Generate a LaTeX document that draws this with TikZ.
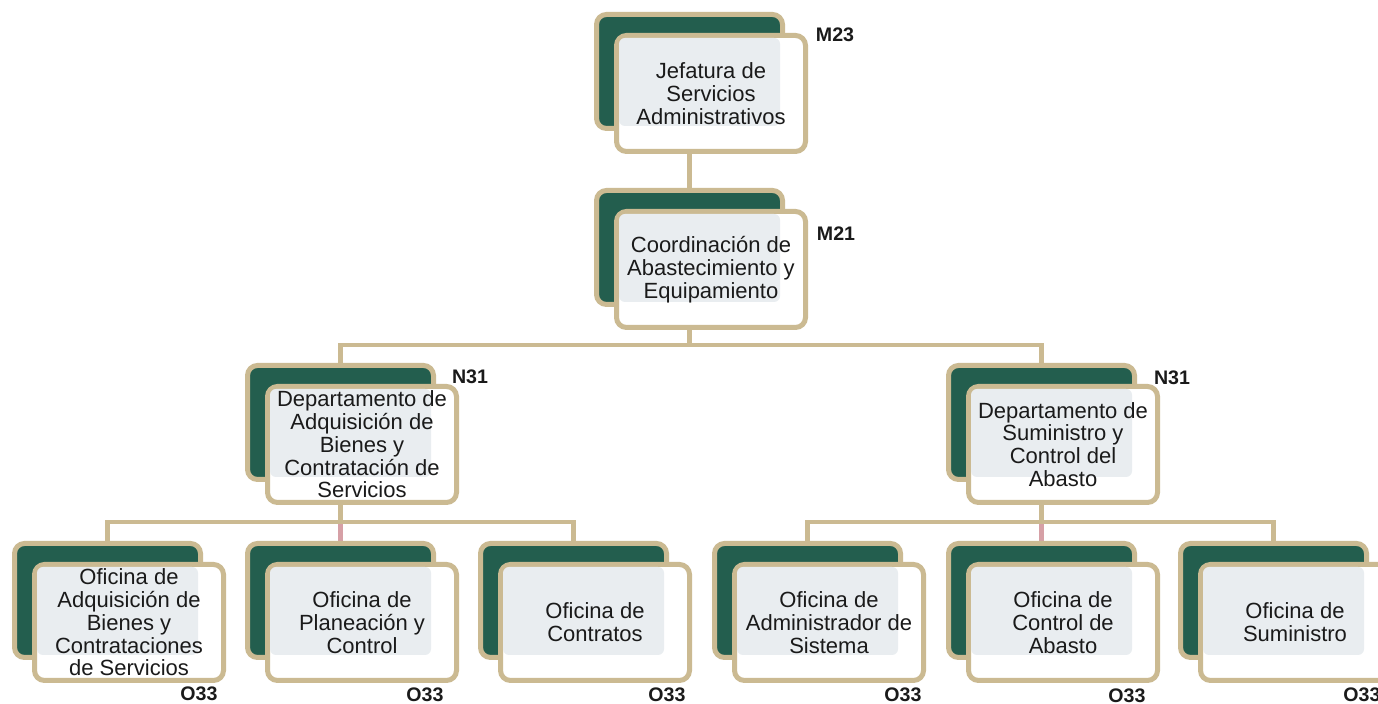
\documentclass[tikz,border=0pt]{standalone}
\usepackage{fontspec}
\setmainfont{Liberation Sans}
\usetikzlibrary{backgrounds}
\definecolor{tan}{RGB}{203,186,146}
\definecolor{dkgreen}{RGB}{35,94,78}
\definecolor{innergray}{RGB}{233,237,240}
\definecolor{pinkline}{RGB}{214,160,166}
\definecolor{txt}{RGB}{26,26,26}
\tikzset{
  backbox/.style={draw=tan, fill=dkgreen, line width=2.5pt, rounded corners=5pt,
    minimum width=93pt, minimum height=57pt, inner sep=0pt},
  frontbox/.style={draw=tan, fill=white, line width=2.5pt, rounded corners=5pt,
    minimum width=94.5pt, minimum height=58pt, inner sep=0pt},
  boxtext/.style={align=center, text=txt, inner sep=0pt,
    font=\fontsize{11}{11.4}\selectfont},
  codelabel/.style={text=txt, inner sep=0pt, font=\fontsize{9.8}{10}\selectfont\bfseries},
  conn/.style={draw=tan, line width=2.4pt},
  pinkconn/.style={draw=pinkline, line width=2.4pt}
}
\newcommand{\orgunit}[4]{%
  \node[backbox] (#1b) at (#2+95.5, #3+59.5) {};
  \node[frontbox] (#1f) at (#2+117, #3+81.5) {};
  \fill[innergray, rounded corners=3pt] (#2+25,#3+26) rectangle (#2+186,#3+114);
  \node[boxtext] (#1t) at (#1f.center) {#4};
}
\begin{document}
\begin{tikzpicture}[x=0.5pt, y=-0.5pt]
\clip (0,0) rectangle (1378,704);
\useasboundingbox (0,0) rectangle (1378,704);

\orgunit{J}{594}{12}{Jefatura de\\Servicios\\Administrativos}
\orgunit{C}{594}{188}{Coordinación de\\Abastecimiento y\\Equipamiento}
\orgunit{L}{245}{363}{Departamento de\\Adquisición de\\Bienes y\\Contratación de\\Servicios}
\orgunit{R}{946}{363}{Departamento de\\Suministro y\\Control del\\Abasto}
\orgunit{LA}{12}{541}{Oficina de\\Adquisición de\\Bienes y\\Contrataciones\\de Servicios}
\orgunit{LB}{245}{541}{Oficina de\\Planeación y\\Control}
\orgunit{LC}{478}{541}{Oficina de\\Contratos}
\orgunit{RA}{712}{541}{Oficina de\\Administrador de\\Sistema}
\orgunit{RB}{946}{541}{Oficina de\\Control de\\Abasto}
\orgunit{RC}{1178}{541}{Oficina de\\Suministro}

\node[codelabel] (lJ) at (835,35) {M23};
\node[codelabel] (lC) at (836,234) {M21};
\node[codelabel] (lL) at (470,377) {N31};
\node[codelabel] (lR) at (1172,378) {N31};
\node[codelabel] (lLA) at (199,694) {O33};
\node[codelabel] (lLB) at (425,695) {O33};
\node[codelabel] (lLC) at (667,695) {O33};
\node[codelabel] (lRA) at (903,695) {O33};
\node[codelabel] (lRB) at (1127,696) {O33};
\node[codelabel] (lRC) at (1362,695) {O33};

\coordinate (h1) at (0,345);
\coordinate (h2) at (0,522);
\begin{pgfonlayer}{background}
  \fill[white] (0,0) rectangle (1378,704);
  \draw[conn] (Jb.center) -- (Cb.center);
  \draw[conn] (Cb.center) -- (Cb.center |- h1);
  \draw[conn] (Lb.center) -- (Lb.center |- h1) -- (Rb.center |- h1) -- (Rb.center);
  \draw[pinkconn] (LBb.center) -- (LBb.center |- h2);
  \draw[pinkconn] (RBb.center) -- (RBb.center |- h2);
  \draw[conn] (Lb.center) -- (Lb.center |- h2);
  \draw[conn] (Rb.center) -- (Rb.center |- h2);
  \draw[conn] (LAb.center) -- (LAb.center |- h2) -- (LCb.center |- h2) -- (LCb.center);
  \draw[conn] (RAb.center) -- (RAb.center |- h2) -- (RCb.center |- h2) -- (RCb.center);
\end{pgfonlayer}
\end{tikzpicture}
\end{document}
